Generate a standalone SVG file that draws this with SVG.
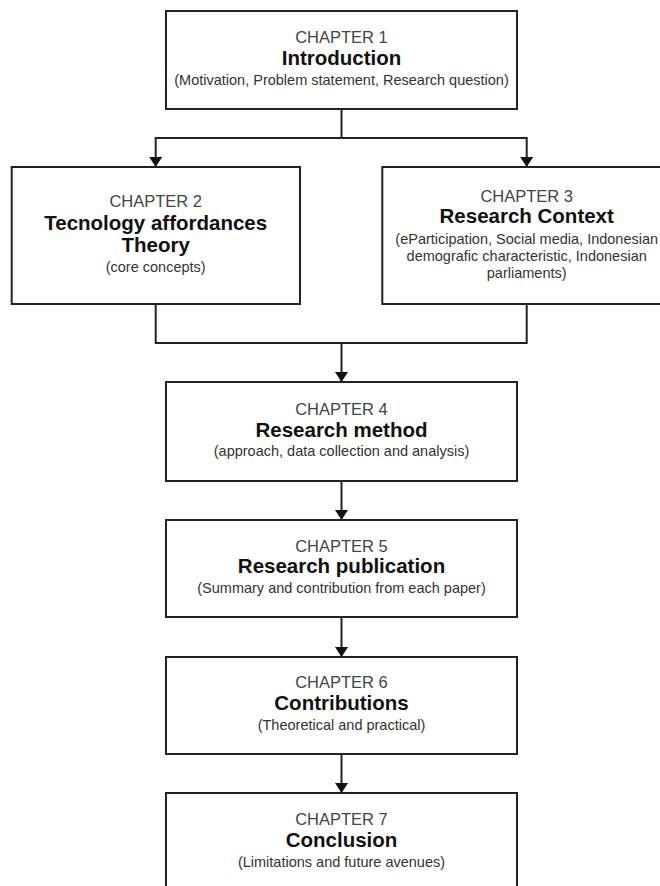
<svg xmlns="http://www.w3.org/2000/svg" width="660" height="886" viewBox="0 0 660 886">
  <style>
    .box { fill: #ffffff; stroke: #222222; stroke-width: 2; }
    .wire { fill: none; stroke: #222222; stroke-width: 2; }
    text { font-family: "Liberation Sans", Arial, sans-serif; text-anchor: middle; }
    .ch { font-size: 16.5px; fill: #444444; }
    .tt { font-size: 20.5px; font-weight: bold; fill: #111111; }
    .sb { font-size: 14.5px; fill: #333333; }
  </style>
  <defs>
    <marker id="arrow" viewBox="0 0 10 13" refX="10" refY="6.5" markerWidth="10" markerHeight="13" markerUnits="userSpaceOnUse" orient="auto">
      <path d="M0,0 L10,6.5 L0,13 Z" fill="#111111"/>
    </marker>
  </defs>

  <rect width="660" height="886" fill="#ffffff"/>

  <!-- connectors -->
  <g id="connectors">
    <path class="wire" d="M341.5,109 V138"/>
    <path class="wire" d="M341.5,138 H155.7 V167" marker-end="url(#arrow)"/>
    <path class="wire" d="M341.5,138 H526.7 V167" marker-end="url(#arrow)"/>
    <path class="wire" d="M155.7,304 V343 H526.7 V304"/>
    <path class="wire" d="M341.5,343 V382" marker-end="url(#arrow)"/>
    <path class="wire" d="M341.5,481 V520" marker-end="url(#arrow)"/>
    <path class="wire" d="M341.5,617 V657" marker-end="url(#arrow)"/>
    <path class="wire" d="M341.5,754 V793" marker-end="url(#arrow)"/>
  </g>

  <g id="chapter1">
    <rect class="box" x="166" y="11" width="351" height="98"/>
    <text class="ch" x="341.5" y="43">CHAPTER 1</text>
    <text class="tt" x="341.5" y="65">Introduction</text>
    <text class="sb" x="341.5" y="85">(Motivation, Problem statement, Research question)</text>
  </g>

  <g id="chapter2">
    <rect class="box" x="11.7" y="167" width="288.3" height="137"/>
    <text class="ch" x="155.7" y="207">CHAPTER 2</text>
    <text class="tt" x="155.7" y="230">Tecnology affordances</text>
    <text class="tt" x="155.7" y="252">Theory</text>
    <text class="sb" x="155.7" y="272">(core concepts)</text>
  </g>

  <g id="chapter3">
    <rect class="box" x="382.3" y="167" width="289" height="137"/>
    <text class="ch" x="526.7" y="202">CHAPTER 3</text>
    <text class="tt" x="526.7" y="223">Research Context</text>
    <text class="sb" x="526.7" y="244">(eParticipation, Social media, Indonesian</text>
    <text class="sb" x="526.7" y="261">demografic characteristic, Indonesian</text>
    <text class="sb" x="526.7" y="277.5">parliaments)</text>
  </g>

  <g id="chapter4">
    <rect class="box" x="166" y="382" width="351" height="99"/>
    <text class="ch" x="341.5" y="415">CHAPTER 4</text>
    <text class="tt" x="341.5" y="437">Research method</text>
    <text class="sb" x="341.5" y="456">(approach, data collection and analysis)</text>
  </g>

  <g id="chapter5">
    <rect class="box" x="166" y="520" width="351" height="97"/>
    <text class="ch" x="341.5" y="552">CHAPTER 5</text>
    <text class="tt" x="341.5" y="573">Research publication</text>
    <text class="sb" x="341.5" y="593">(Summary and contribution from each paper)</text>
  </g>

  <g id="chapter6">
    <rect class="box" x="166" y="657" width="351" height="97"/>
    <text class="ch" x="341.5" y="688">CHAPTER 6</text>
    <text class="tt" x="341.5" y="710">Contributions</text>
    <text class="sb" x="341.5" y="730">(Theoretical and practical)</text>
  </g>

  <g id="chapter7">
    <rect class="box" x="166" y="793" width="351" height="110"/>
    <text class="ch" x="341.5" y="825">CHAPTER 7</text>
    <text class="tt" x="341.5" y="847">Conclusion</text>
    <text class="sb" x="341.5" y="867">(Limitations and future avenues)</text>
  </g>
</svg>
